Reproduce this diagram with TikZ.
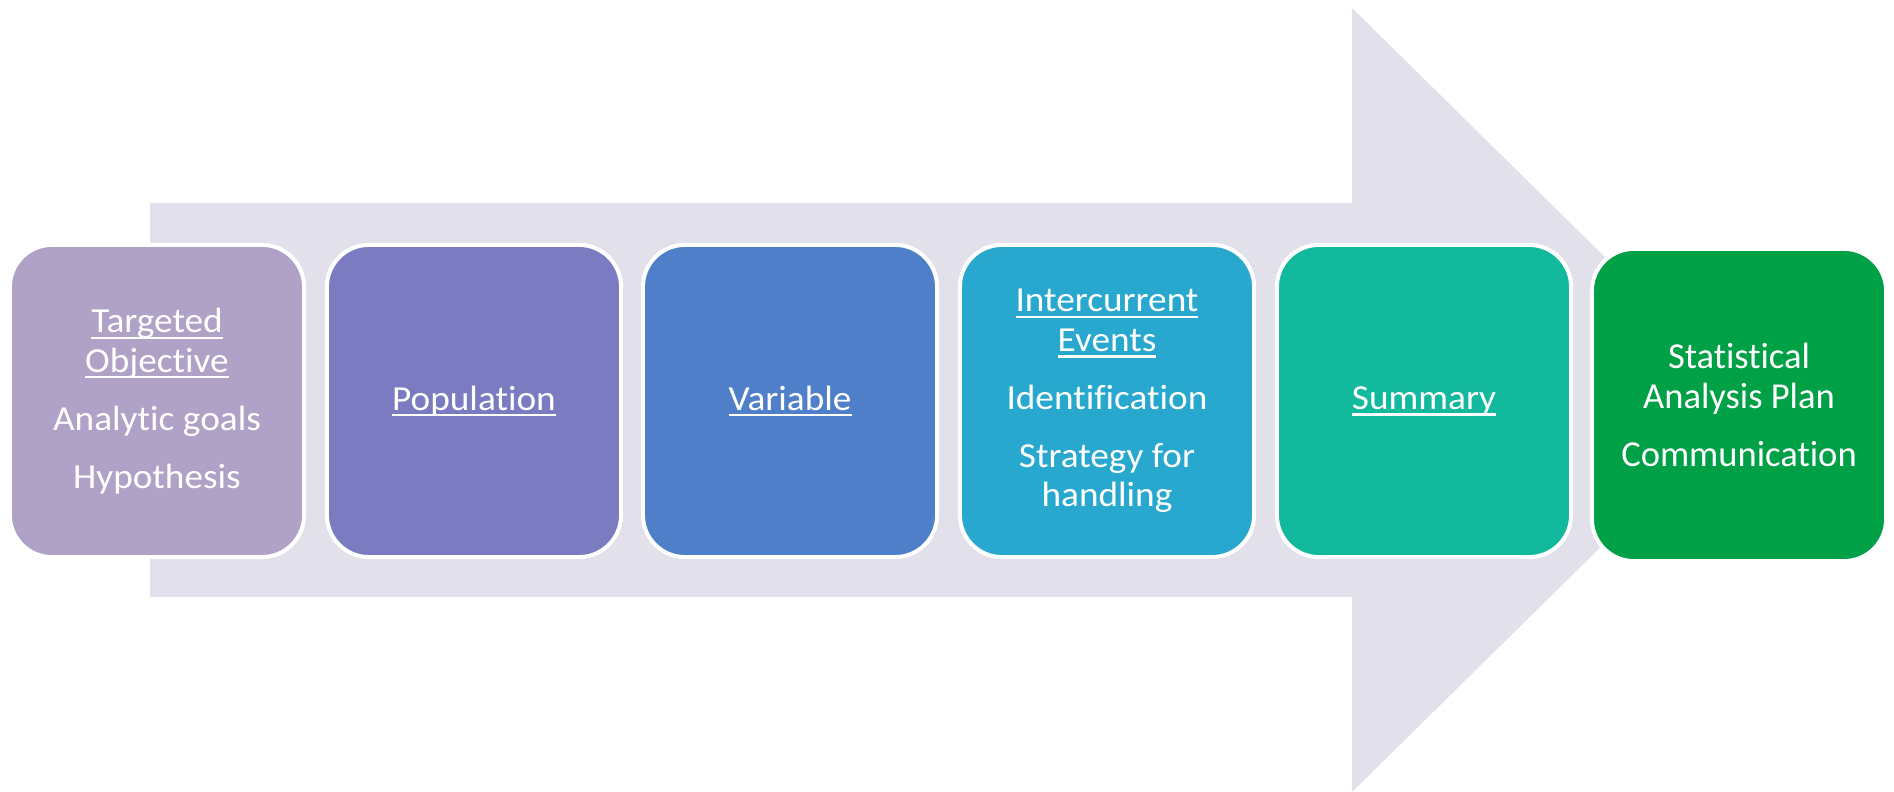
\documentclass[tikz,border=0pt]{standalone}
\usepackage{fontspec}
\setmainfont{Carlito}[Ligatures=NoCommon]
\newfontfamily\stagefont{Carlito}[Ligatures=NoCommon, FakeStretch=1.06]
\definecolor{shaftgray}{HTML}{E2E0EA}
\definecolor{objcol}{HTML}{B0A1C6}
\definecolor{popcol}{HTML}{7B7BC2}
\definecolor{varcol}{HTML}{4F7FC9}
\definecolor{icecol}{HTML}{28A8CE}
\definecolor{sumcol}{HTML}{12B99C}
\definecolor{sapcol}{HTML}{00A046}
\newcommand{\undl}[1]{{\setbox0\hbox{#1}\rlap{\rule[-1.8pt]{\wd0}{0.6pt}}\box0}}
\begin{document}
\begin{tikzpicture}[x=0.01cm, y=0.01cm]
\tikzstyle{every node}+=[inner sep=0pt]
\tikzstyle{stagebox}=[draw=white, line width=0.04cm, rounded corners=0.42cm, minimum width=2.94cm, minimum height=3.12cm, text=white, align=center, font=\fontsize{10}{11.2}\selectfont\stagefont]
\useasboundingbox (0,0) rectangle (1894,-792);
\fill [shaftgray] (150,-203) -- (1352,-203) -- (1352,-8) -- (1750,-400) -- (1352,-792) -- (1352,-597) -- (150,-597) -- cycle;
\node [stagebox, fill=objcol] (objective) at (157,-401) {\undl{Targeted}\\\undl{Objective}\\[5.3pt]Analytic goals\\[5.3pt]Hypothesis};
\node [stagebox, fill=popcol] (population) at (474,-401) {\undl{Population}};
\node [stagebox, fill=varcol] (variable) at (790,-401) {\undl{Variable}};
\node [stagebox, fill=icecol] (events) at (1107,-401) {\undl{Intercurrent}\\\undl{Events}\\[5.3pt]Identification\\[5.3pt]Strategy for\\handling};
\node [stagebox, fill=sumcol] (summary) at (1424,-401) {\undl{Summary}};
\node [stagebox, fill=sapcol, font=\fontsize{10.4}{11.4}\selectfont] (sap) at (1739,-405) {Statistical\\Analysis Plan\\[5.1pt]Communication};
\end{tikzpicture}
\end{document}
